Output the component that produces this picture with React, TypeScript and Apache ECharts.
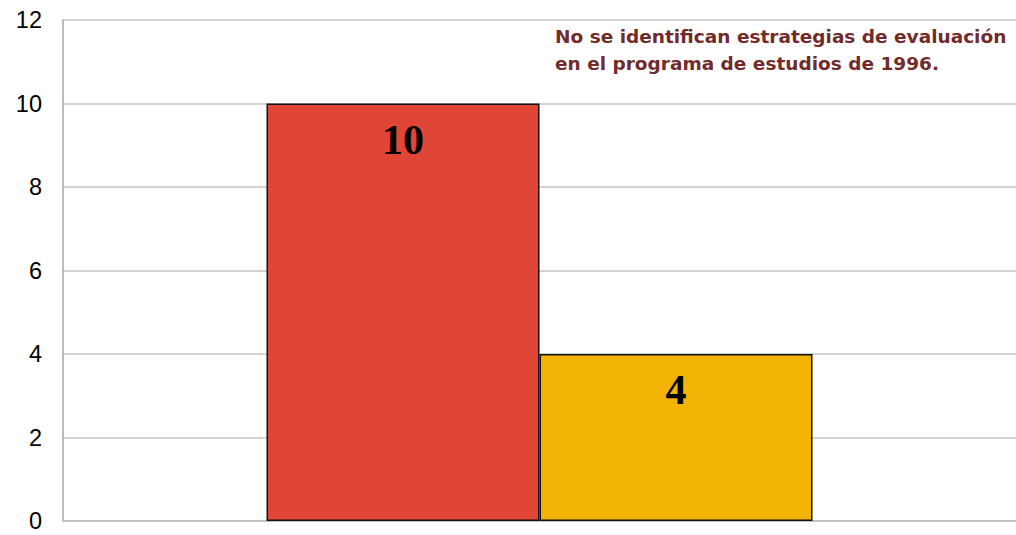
import React, { useEffect, useRef } from "react";
import * as echarts from "echarts";

const categories = [""];
const seriesNames = ["A", "B"];
const seriesValues = [10, 4];
const seriesColors = ["#E04535", "#F2B304"];
const yTicks = { min: 0, max: 12, interval: 2 };
const noteLines = [
  "No se identifican estrategias de evaluación",
  "en el programa de estudios de 1996.",
];

export default function App() {
  const ref = useRef<HTMLDivElement>(null);
  useEffect(() => {
    document.body.style.margin = "0";
    const chart = echarts.init(ref.current!, null, { renderer: "svg" });
    chart.setOption({
      animation: false,
      backgroundColor: "#ffffff",
      grid: { left: 63, right: 0, top: 20, bottom: 14 },
      xAxis: {
        type: "category",
        data: categories,
        axisLine: { show: true, lineStyle: { color: "#bdbdbd", width: 1.5 } },
        axisTick: { show: false },
        axisLabel: { show: false },
      },
      yAxis: {
        type: "value",
        min: yTicks.min,
        max: yTicks.max,
        interval: yTicks.interval,
        axisLine: { show: true, lineStyle: { color: "#a6a6a6", width: 1.5 } },
        axisTick: { show: false },
        axisLabel: {
          color: "#000",
          fontSize: 23.5,
          fontFamily: "Liberation Sans, Arial, sans-serif",
          margin: 21,
        },
        splitLine: { lineStyle: { color: "#c4c4c4", width: 1.5 } },
      },
      series: seriesValues.map((v, i) => ({
        name: seriesNames[i],
        type: "bar",
        data: [v],
        barWidth: 273,
        barGap: "0%",
        itemStyle: { color: seriesColors[i], borderColor: "#111", borderWidth: 1.5 },
        label: {
          show: true,
          position: "insideTop",
          distance: 15,
          color: "#000",
          fontSize: 42,
          fontWeight: "bold",
          fontFamily: "Liberation Serif, Times New Roman, serif",
        },
      })),
      graphic: [
        {
          type: "text",
          left: 555,
          top: 23,
          style: {
            text: noteLines.join("\n"),
            fill: "#722B2B",
            font: "bold 18.5px 'DejaVu Sans', sans-serif",
            lineHeight: 27,
          },
        },
      ],
    });
    return () => chart.dispose();
  }, []);
  return <div ref={ref} style={{ width: 1016, height: 535 }} />;
}
